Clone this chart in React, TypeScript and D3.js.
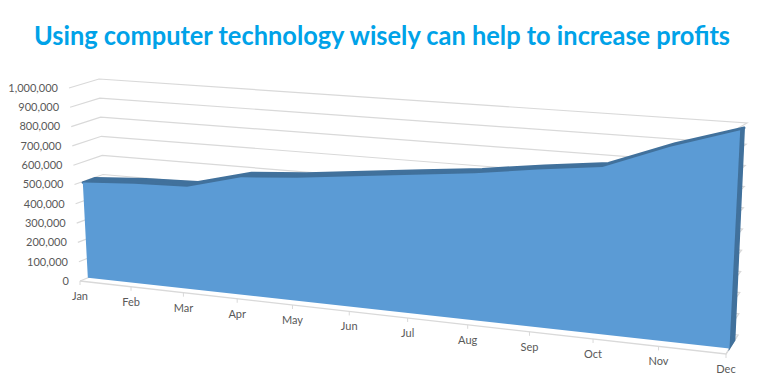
import React from "react";
import * as d3 from "d3";

const months = ["Jan","Feb","Mar","Apr","May","Jun","Jul","Aug","Sep","Oct","Nov","Dec"];
const profits = [495000,512000,520000,590000,610000,640000,670000,700000,740000,775000,890000,985000];
const yTicks = [0,100000,200000,300000,400000,500000,600000,700000,800000,900000,1000000];
const title = "Using computer technology wisely can help to increase profits";

const W = 783, H = 392;
const FRONT = { tl:[69,88], bl:[80,281], tr:[737.6,128.6], br:[726,354] };
const BACK = { tl:[99,79], bl:[107,270], tr:[747,123], br:[738,335] };
const AREA_FRONT = 0.29, AREA_BACK = 0.72;
const PERSPECTIVE = 1.166;

const xLin = d3.scalePoint<string>().domain(months).range([0,1]);
const xPersp = (m: string) => { const u = xLin(m)!; return u / (u + PERSPECTIVE * (1 - u)); };
const yLin = d3.scaleLinear().domain([0,1000000]).range([0,1]);
const lerp = (a:number[],b:number[],t:number) => [a[0]+(b[0]-a[0])*t, a[1]+(b[1]-a[1])*t];
const plane = (q:typeof FRONT,u:number,v:number) => lerp(lerp(q.bl,q.br,u), lerp(q.tl,q.tr,u), v);
const project = (u:number,v:number,d:number) => lerp(plane(FRONT,u,v), plane(BACK,u,v), d);
const poly = d3.line<number[]>().x(p=>p[0]).y(p=>p[1]);

const FONT = "Lato, 'Noto Sans', sans-serif";
const GRID = "#D9D9D9", TEXT = "#595959", FILL = "#5B9BD5", DARK = "#41719C";

export default function App() {
  const tops = months.map((m,i)=>({u:xPersp(m), v:yLin(profits[i])}));
  const frontTop = tops.map(t=>project(t.u,t.v,AREA_FRONT));
  const backTop = tops.map(t=>project(t.u,t.v,AREA_BACK));
  const last = tops[tops.length-1];
  const facePts = [project(0,0,AREA_FRONT), ...frontTop, project(1,0,AREA_FRONT)];
  const topBand = [...frontTop, ...backTop.slice().reverse()];
  const sideBand = [project(1,0,AREA_FRONT), project(1,last.v,AREA_FRONT), project(1,last.v,AREA_BACK), project(1,0,AREA_BACK)];
  return (
    <svg width={W} height={H} style={{position:"absolute",left:0,top:0,display:"block",background:"#fff"}}>
      <text x={382} y={45} textAnchor="middle" fontFamily={FONT} fontWeight={700} fontSize={26} fill="#00A2E8" textLength={696} lengthAdjust="spacingAndGlyphs">{title}</text>
      {yTicks.map(t=>{
        const v=yLin(t);
        const a=project(0,v,0), b=project(0,v,1), c=project(1,v,1), e=project(1,v,0);
        return <g key={t}>
          <path d={poly([a,b,c,e])!} fill="none" stroke={GRID} strokeWidth={1.2}/>
          <text x={a[0]-11} y={a[1]} dy="0.35em" textAnchor="end" fontFamily={FONT} fontSize={11} fill={TEXT}>{d3.format(",")(t)}</text>
        </g>;
      })}
      <path d={poly([project(0,0,0),project(1,0,0),project(1,0,1)])!} fill="none" stroke={GRID} strokeWidth={1.4}/>
      {months.map(m=>{
        const p=project(xPersp(m),0,0);
        return <g key={m}>
          <line x1={p[0]} y1={p[1]} x2={p[0]} y2={p[1]+4} stroke={GRID} strokeWidth={1}/>
          <text x={p[0]} y={p[1]+15} dy="0.35em" textAnchor="middle" fontFamily={FONT} fontSize={11} fill={TEXT}>{m}</text>
        </g>;
      })}
      <path d={poly(topBand)!+"Z"} fill={DARK} stroke={DARK} strokeWidth={2.5} strokeLinejoin="round"/>
      <path d={poly(sideBand)!+"Z"} fill={DARK} stroke={DARK} strokeWidth={1.5}/>
      <path d={poly(facePts)!+"Z"} fill={FILL}/>
    </svg>
  );
}
